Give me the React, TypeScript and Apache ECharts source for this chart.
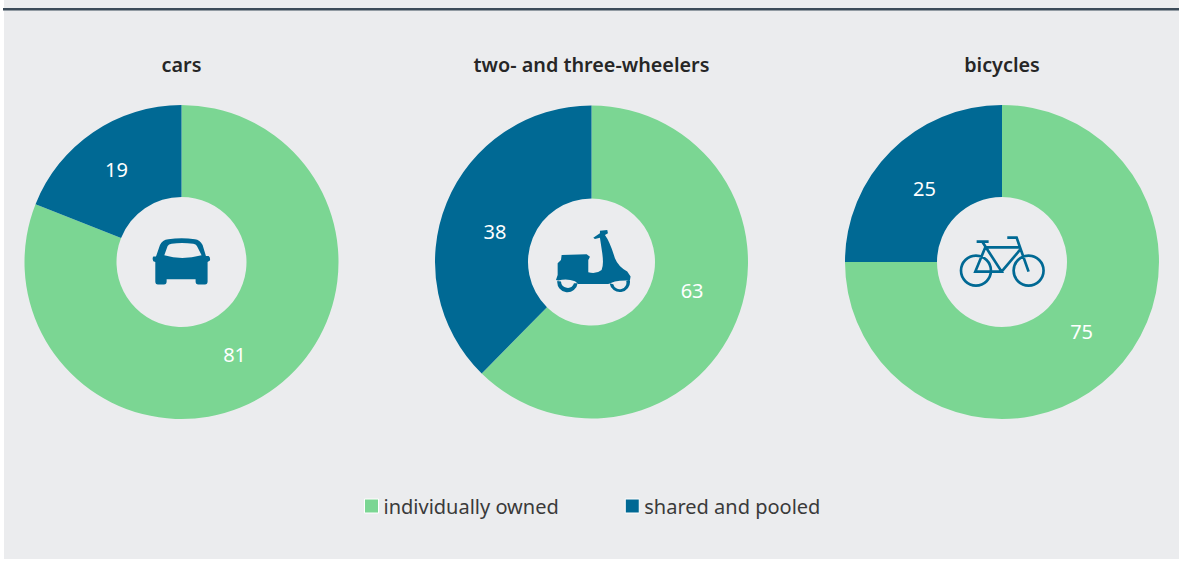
import React, { useEffect, useRef } from "react";
import * as echarts from "echarts";

const seriesNames = ["individually owned", "shared and pooled"];
const titles = ["cars", "two- and three-wheelers", "bicycles"];
const ownedValues = [81, 63, 75];
const sharedValues = [19, 38, 25];
const centersX = [181.5, 591.5, 1002];
const innerRadii = [65, 63.5, 65];
const outerRadii = [157, 156.5, 157];
const labelOffsets = [
  [[-11, -2], [-1, 2]],
  [[-4, -14], [8, 12]],
  [[-1, -11], [3, 7]],
];

const GREEN = "#7bd693";
const BLUE = "#006994";
const BG = "#ebecee";
const FONT = '"Noto Sans", "Open Sans", sans-serif';

const carPath =
  "M 78 140 L 90 105 Q 97 90 115 88 Q 155 82 195 88 Q 210 90 218 105 L 228 138 L 236 138 Q 242 142 240 152 L 233 156 L 233 215 Q 233 224 225 224 L 205 224 Q 197 224 197 215 L 197 208 L 110 208 L 110 215 Q 110 224 102 224 L 84 224 Q 76 224 76 215 L 76 156 L 70 154 Q 66 145 70 140 Z " +
  "M 103 136 Q 155 152 215 136 L 201 108 Q 198 102 190 101 Q 155 97 125 101 Q 116 102 113 108 Z";
const scooterPath =
  "M 48 195 L 53 180 L 53 145 L 63 135 L 65 120 L 140 118 L 150 125 L 145 135 L 145 172 Q 170 178 185 165 Q 192 150 187 115 L 180 68 L 165 72 L 160 68 L 180 55 L 180 47 L 202 45 L 204 55 L 195 60 Q 210 80 225 130 Q 235 155 262 170 L 272 185 L 270 197 Q 245 195 225 200 L 205 207 L 115 207 L 105 199 Q 80 190 55 197 Z " +
  "M 52 198 A 30 30 0 0 0 113 205 L 102 205 A 20 20 0 0 1 63 200 Z " +
  "M 209 205 A 30 30 0 0 0 270 196 L 259 198 A 20 20 0 0 1 220 208 Z";
const bikePath =
  "M 33 167 A 45 45 0 1 1 123 167 A 45 45 0 1 1 33 167 Z " +
  "M 191 167 A 45 45 0 1 1 281 167 A 45 45 0 1 1 191 167 Z " +
  "M 80 80 L 116 80 M 98 82 L 155 170 L 76 170 L 106 97 L 208 97 M 155 170 L 210 105 " +
  "M 172 68 L 200 68 L 236 170";

echarts.graphic.registerShape("carIcon", echarts.graphic.extendPath(carPath, {}) as any);
echarts.graphic.registerShape("scooterIcon", echarts.graphic.extendPath(scooterPath, {}) as any);
echarts.graphic.registerShape("bikeIcon", echarts.graphic.extendPath(bikePath, {}) as any);

export default function App() {
  const ref = useRef<HTMLDivElement>(null);
  useEffect(() => {
    document.body.style.margin = "0";
    document.body.style.background = "#fff";
    const chart = echarts.init(ref.current!, undefined, { renderer: "svg" });
    const s = 1 / 3;
    chart.setOption({
      animation: false,
      color: [GREEN, BLUE],
      title: titles.map((t, i) => ({
        text: t,
        left: centersX[i],
        top: 54,
        padding: 0,
        textAlign: "center",
        textStyle: { fontFamily: FONT, fontSize: 19.8, fontWeight: 600, color: "#262626" },
      })),
      legend: {
        data: seriesNames,
        left: 359,
        top: 491,
        icon: "rect",
        itemWidth: 14,
        itemHeight: 14,
        itemGap: 66,
        itemStyle: { borderColor: "#fff", borderWidth: 1 },
        textStyle: { fontFamily: FONT, fontSize: 20, color: "#3a3a3a" },
      },
      series: titles.map((t, i) => ({
        type: "pie",
        name: t,
        center: [centersX[i], 262],
        radius: [innerRadii[i], outerRadii[i]],
        startAngle: 90,
        clockwise: true,
        silent: true,
        label: {
          show: true,
          position: "inside",
          formatter: "{c}",
          color: "#fff",
          fontFamily: FONT,
          fontSize: 20,
        },
        labelLine: { show: false },
        data: [
          { name: seriesNames[0], value: ownedValues[i], itemStyle: { color: GREEN }, label: { offset: labelOffsets[i][0] } },
          { name: seriesNames[1], value: sharedValues[i], itemStyle: { color: BLUE }, label: { offset: labelOffsets[i][1] } },
        ],
      })),
      graphic: [
        { type: "rect", z: -10, silent: true, shape: { x: 4, y: 0, width: 1175, height: 559 }, style: { fill: BG } },
        { type: "rect", z: 5, silent: true, shape: { x: 3, y: 8, width: 1176, height: 2.5 }, style: { fill: "#3b4a58" } },
        { type: "carIcon", z: 10, x: 130, y: 210, scaleX: s, scaleY: s, style: { fill: BLUE } },
        { type: "scooterIcon", z: 10, x: 540, y: 215, scaleX: s, scaleY: s, style: { fill: BLUE } },
        { type: "bikeIcon", z: 10, x: 950, y: 215, scaleX: s, scaleY: s, style: { fill: "none", stroke: BLUE, lineWidth: 8 } },
      ],
    });
    return () => chart.dispose();
  }, []);
  return <div ref={ref} style={{ width: 1179, height: 561 }} />;
}
